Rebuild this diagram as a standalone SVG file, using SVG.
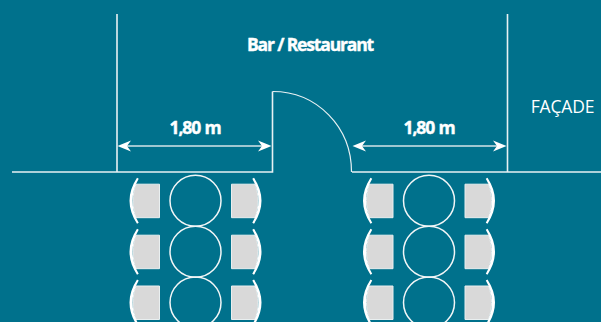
<svg xmlns="http://www.w3.org/2000/svg" width="601" height="322" viewBox="0 0 601 322">
<style>
.l{fill:none;stroke:#e8f1f3;stroke-width:1.6}
.a{fill:none;stroke:#e8f1f3;stroke-width:1.2}
.d{fill:none;stroke:#d3e4e8;stroke-width:1.6}
.h{fill:#fff;stroke:none}
.c{fill:none;stroke:#f2f6f7;stroke-width:1.5}
.s{fill:#d9d9d9;stroke:#e9eff0;stroke-width:1}
.b{fill:#fff;stroke:none}
.t{font-family:"Open Sans",sans-serif;fill:#fff}
.n{font-size:17.500px;font-weight:700;letter-spacing:-1.150px;stroke:#fff;stroke-width:.4px}
</style>
<defs>
<g id="table">
<circle class="c" cx="0" cy="0" r="25.500"/>
<path class="s" d="M-59.500,-16.500H-36V17H-59.500C-63.500,6-63.500,-6-59.500,-16.500Z"/>
<path class="s" d="M59.500,-16.500H36V17H59.500C63.500,6,63.500,-6,59.500,-16.500Z"/>
<path class="b" d="M-58.500,-23L-56.800,-22C-65,-8-65,8-56.800,22L-58.500,23C-68.500,8-68.500,-8-58.500,-23Z"/>
<path class="b" d="M58.500,-23L56.800,-22C65,-8,65,8,56.800,22L58.500,23C68.500,8,68.500,-8,58.500,-23Z"/>
</g>
</defs>
<rect width="601" height="322" fill="#00718c"/>
<g id="connectors">
<path class="l" d="M12,172H272.500V91.500M352,172H601"/>
<path class="a" d="M272.500,91.500C317,91.500,351.500,127,351.500,172"/>
<path class="l" d="M117,14V172M507.500,14V172"/>
<path class="d" d="M122,146H267M357,146H503"/>
<path class="h" d="M117.500,146L131,140.500L127,146L131,151.500Z"/>
<path class="h" d="M271.500,146L258,140.500L262,146L258,151.500Z"/>
<path class="h" d="M352.500,146L366,140.500L362,146L366,151.500Z"/>
<path class="h" d="M506.500,146L493,140.500L497,146L493,151.500Z"/>
</g>
<g id="table-left-1"><use href="#table" x="195.500" y="200.700"/></g>
<g id="table-left-2"><use href="#table" x="195.500" y="251.700"/></g>
<g id="table-left-3"><use href="#table" x="195.500" y="302.500"/></g>
<g id="table-right-1"><use href="#table" x="429" y="200.700"/></g>
<g id="table-right-2"><use href="#table" x="429" y="251.700"/></g>
<g id="table-right-3"><use href="#table" x="429" y="302.500"/></g>
<g id="labels">
<text class="t n" x="310" y="51" text-anchor="middle">Bar / Restaurant</text>
<text class="t n" x="195" y="134" text-anchor="middle" word-spacing="1">1,80 m</text>
<text class="t n" x="429" y="134" text-anchor="middle" word-spacing="1">1,80 m</text>
<text class="t" x="562.500" y="113" text-anchor="middle" font-size="17.500" letter-spacing="-.2">FAÇADE</text>
</g>
</svg>
